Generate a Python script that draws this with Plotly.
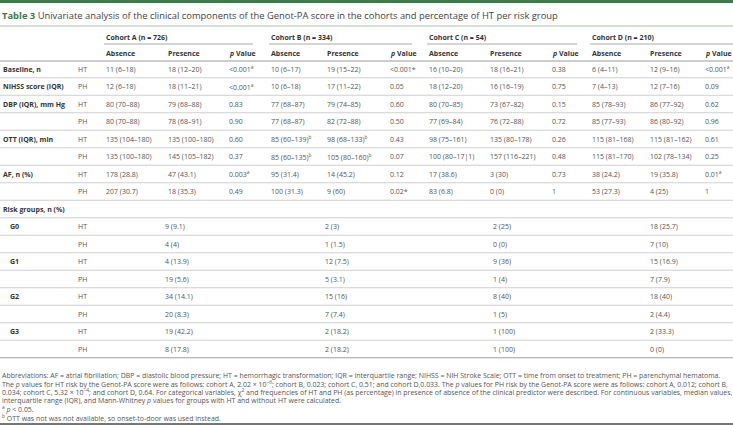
import plotly.graph_objects as go

# ---------------- data ----------------
title_tag = "Table 3"
title_text = ("Univariate analysis of the clinical components of the Genot-PA score in the cohorts "
              "and percentage of HT per risk group")
cohorts = ["Cohort A (n = 726)", "Cohort B (n = 334)", "Cohort C (n = 54)", "Cohort D (n = 210)"]
sub_headers = ["Absence", "Presence", "<i>p</i> Value"]

row_labels = ["Baseline, n", "NIHSS score (IQR)", "DBP (IQR), mm Hg", "", "OTT (IQR), min", "", "AF, n (%)", ""]
row_types = ["HT", "PH", "HT", "PH", "HT", "PH", "HT", "PH"]

a_absence = ["11 (6–18)", "12 (6–18)", "80 (70–88)", "80 (70–88)", "135 (104–180)", "135 (100–180)", "178 (28.8)", "207 (30.7)"]
a_presence = ["18 (12–20)", "18 (11–21)", "79 (68–88)", "78 (68–91)", "135 (100–180)", "145 (105–182)", "47 (43.1)", "18 (35.3)"]
a_p = ["<0.001<sup>a</sup>", "<0.001<sup>a</sup>", "0.83", "0.90", "0.60", "0.37", "0.003<sup>a</sup>", "0.49"]

b_absence = ["10 (6–17)", "10 (6–18)", "77 (68–87)", "77 (68–87)", "85 (60–139)<sup>b</sup>", "85 (60–135)<sup>b</sup>", "95 (31.4)", "100 (31.3)"]
b_presence = ["19 (15–22)", "17 (11–22)", "79 (74–85)", "82 (72–88)", "98 (68–133)<sup>b</sup>", "105 (80–160)<sup>b</sup>", "14 (45.2)", "9 (60)"]
b_p = ["<0.001*", "0.05", "0.60", "0.50", "0.43", "0.07", "0.12", "0.02*"]

c_absence = ["16 (10–20)", "18 (12–20)", "80 (70–85)", "77 (69–84)", "98 (75–161)", "100 (80–17|1)", "17 (38.6)", "83 (6.8)"]
c_presence = ["18 (16–21)", "16 (16–19)", "73 (67–82)", "76 (72–88)", "135 (80–178)", "157 (116–221)", "3 (30)", "0 (0)"]
c_p = ["0.38", "0.75", "0.15", "0.72", "0.26", "0.48", "0.73", "1"]

d_absence = ["6 (4–11)", "7 (4–13)", "85 (78–93)", "85 (77–93)", "115 (81–168)", "115 (81–170)", "38 (24.2)", "53 (27.3)"]
d_presence = ["12 (9–16)", "12 (7–16)", "86 (77–92)", "86 (80–92)", "115 (81–162)", "102 (78–134)", "19 (35.8)", "4 (25)"]
d_p = ["<0.001<sup>a</sup>", "0.09", "0.62", "0.96", "0.61", "0.25", "0.01<sup>a</sup>", "1"]

risk_title = "Risk groups, n (%)"
risk_labels = ["G0", "", "G1", "", "G2", "", "G3", ""]
risk_types = ["HT", "PH", "HT", "PH", "HT", "PH", "HT", "PH"]
risk_a = ["9 (9.1)", "4 (4)", "4 (13.9)", "19 (5.6)", "34 (14.1)", "20 (8.3)", "19 (42.2)", "8 (17.8)"]
risk_b = ["2 (3)", "1 (1.5)", "12 (7.5)", "5 (3.1)", "15 (16)", "7 (7.4)", "2 (18.2)", "2 (18.2)"]
risk_c = ["2 (25)", "0 (0)", "9 (36)", "1 (4)", "8 (40)", "1 (5)", "1 (100)", "1 (100)"]
risk_d = ["18 (25.7)", "7 (10)", "15 (16.9)", "7 (7.9)", "18 (40)", "2 (4.4)", "2 (33.3)", "0 (0)"]

footnotes = [
    "Abbreviations: AF = atrial fibrillation; DBP = diastolic blood pressure; HT = hemorrhagic transformation; IQR = interquartile range; NIHSS = NIH Stroke Scale; OTT = time from onset to treatment; PH = parenchymal hematoma.",
    "The <i>p</i> values for HT risk by the Genot-PA score were as follows: cohort A, 2.02 × 10<sup>−6</sup>; cohort B, 0.023; cohort C, 0.51; and cohort D,0.033. The <i>p</i> values for PH risk by the Genot-PA score were as follows: cohort A, 0.012; cohort B,",
    "0.034; cohort C, 5.32 × 10<sup>−4</sup>; and cohort D, 0.64. For categorical variables, χ<sup>2</sup> and frequencies of HT and PH (as percentage) in presence of absence of the clinical predictor were described. For continuous variables, median values,",
    "interquartile range (IQR), and Mann-Whitney <i>p</i> values for groups with HT and without HT were calculated.",
    "<sup>a</sup> <i>p</i> < 0.05.",
    "<sup>b</sup> OTT was not was not available, so onset-to-door was used instead.",
]

# ---------------- layout / style ----------------
W, H = 733, 428
FONT = "Open Sans"
GREEN = "#3d7a4c"
LABEL_C = "#333333"
VAL_C = "#555555"
LINE_C = "#cfcfcf"

x_label = 1
x_type = 76
col_x = [[104, 166, 227], [269, 325, 388], [427, 488, 550], [590, 648, 703]]
span_x = [(104, 253), (269, 412), (427, 577), (590, 733)]

y_title = 15
y_title_line = 26
y_cohort = 37
y_cohort_line = 44
y_sub = 53
y_head_line = 61
row_y0 = 69
row_h = 17.5
y_foot0 = 375
foot_h = 8.6
y_bottom = 424

annotations = []
shapes = []


def txt(x, y, s, size=7, color=VAL_C, bold=False, anchor="left"):
    if bold:
        s = "<b>" + s + "</b>"
    annotations.append(dict(x=x, y=y, xref="x", yref="y", text=s, showarrow=False,
                            xanchor=anchor, yanchor="middle",
                            font=dict(family=FONT, size=size, color=color)))


def hline(y, x0=0, x1=W, color=LINE_C, width=1):
    shapes.append(dict(type="line", xref="x", yref="y", x0=x0, x1=x1, y0=y, y1=y,
                       line=dict(color=color, width=width)))


# top bar
shapes.append(dict(type="rect", xref="x", yref="y", x0=0, x1=W, y0=0, y1=3,
                   fillcolor=GREEN, line=dict(width=0)))
# title
txt(0, y_title, "<b><span style='color:%s'>%s</span></b> %s" % (GREEN, title_tag, title_text),
    size=9.4, color="#444444")
hline(y_title_line, color="#a9c4ae")

# cohort headers
for i, c in enumerate(cohorts):
    txt(col_x[i][0], y_cohort, c, color=LABEL_C, bold=True)
    hline(y_cohort_line, span_x[i][0], span_x[i][1], color="#aaaaaa")
    for j, s in enumerate(sub_headers):
        txt(col_x[i][j], y_sub, s, color=LABEL_C, bold=True)
hline(y_head_line, color="#9a9a9a")

# main rows
cols = [(a_absence, a_presence, a_p), (b_absence, b_presence, b_p),
        (c_absence, c_presence, c_p), (d_absence, d_presence, d_p)]
for r in range(len(row_labels)):
    y = row_y0 + r * row_h
    if row_labels[r]:
        txt(x_label, y, row_labels[r], color=LABEL_C, bold=True)
    txt(x_type, y, row_types[r])
    for i, trio in enumerate(cols):
        for j in range(3):
            txt(col_x[i][j], y, trio[j][r])
    hline(y + row_h / 2)

# risk groups
nmain = len(row_labels)
y = row_y0 + nmain * row_h
txt(x_label, y, risk_title, color=LABEL_C, bold=True)
hline(y + row_h / 2)
risk_cols = [risk_a, risk_b, risk_c, risk_d]
risk_x = [163, 323, 491, 648]
for r in range(len(risk_labels)):
    y = row_y0 + (nmain + 1 + r) * row_h
    if risk_labels[r]:
        txt(8, y, risk_labels[r], color=LABEL_C, bold=True)
    txt(x_type, y, risk_types[r])
    for i, vals in enumerate(risk_cols):
        txt(risk_x[i], y, vals[r])
    last = r == len(risk_labels) - 1
    hline(y + row_h / 2, color="#a0a0a0" if last else LINE_C)

# footnotes
for k, f in enumerate(footnotes):
    txt(0, y_foot0 + k * foot_h, f, size=6.95, color="#555555")
hline(y_bottom, color="#777777", width=2)

fig = go.Figure()
fig.update_layout(
    width=W, height=H, margin=dict(l=0, r=0, t=0, b=0),
    paper_bgcolor="white", plot_bgcolor="white",
    xaxis=dict(range=[0, W], visible=False, fixedrange=True),
    yaxis=dict(range=[H, 0], visible=False, fixedrange=True),
    annotations=annotations, shapes=shapes, showlegend=False,
)
fig.write_html("out.html", config={"displayModeBar": False},
               post_script="document.body.style.margin='0';document.body.style.overflow='hidden';")
